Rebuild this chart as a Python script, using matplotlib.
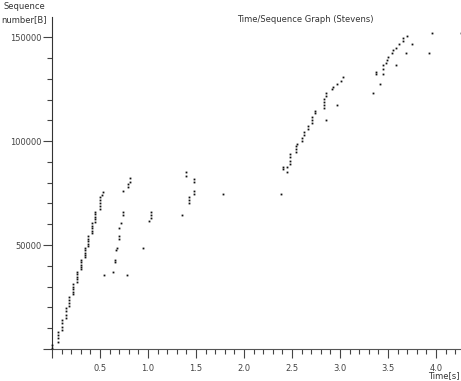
import matplotlib
matplotlib.use('Agg')
import matplotlib.pyplot as plt
from matplotlib.ticker import MultipleLocator

# time [s] and sequence number [B] of each segment
times = [
    0.003, 0.005,
    0.059, 0.059, 0.059, 0.059,
    0.101, 0.101, 0.101, 0.101,
    0.143, 0.143, 0.143, 0.143,
    0.182, 0.182, 0.182, 0.182,
    0.222, 0.222, 0.222, 0.222, 0.222,
    0.264, 0.264, 0.264, 0.264, 0.264,
    0.302, 0.302, 0.302, 0.302, 0.302,
    0.339, 0.339, 0.339, 0.339, 0.339,
    0.378, 0.378, 0.378, 0.378, 0.378,
    0.417, 0.417, 0.417, 0.417, 0.417,
    0.453, 0.453, 0.453, 0.453, 0.453,
    0.495, 0.495, 0.495, 0.495, 0.495,
    0.516, 0.531,
    0.545, 0.639, 0.661, 0.661, 0.667, 0.677, 0.698, 0.698, 0.698, 0.719,
    0.740, 0.740, 0.740, 0.789, 0.789, 0.8125, 0.8125, 0.781,
    0.948, 1.010, 1.028, 1.028, 1.028,
    1.357, 1.393, 1.393, 1.427, 1.427, 1.427, 1.482, 1.482, 1.482, 1.482,
    1.784, 2.380,
    2.409, 2.409, 2.445, 2.445, 2.479, 2.479, 2.479, 2.479,
    2.542, 2.542, 2.542, 2.555, 2.599, 2.599, 2.625, 2.625, 2.663, 2.663,
    2.705, 2.705, 2.705, 2.740, 2.740, 2.83, 2.83, 2.83, 2.83,
    2.854, 2.854, 2.914, 2.930, 2.966, 3.007, 3.028, 2.854, 2.966,
    3.341, 3.375, 3.375, 3.417, 3.451, 3.451, 3.451, 3.479, 3.486, 3.497,
    3.539, 3.555, 3.580, 3.618, 3.653, 3.653, 3.695,
    3.580, 3.6875, 3.75, 3.930, 3.961, 4.26,
]
seqs = [
    1900, 500,
    8300, 6700, 5100, 3500,
    13900, 12400, 10700, 9100,
    19700, 18100, 16500, 14900,
    25100, 23700, 22300, 20800,
    31200, 30000, 28800, 27600, 26400,
    37200, 36000, 34800, 33600, 32400,
    42800, 41700, 40600, 39600, 38500,
    48600, 47500, 46400, 45300, 44200,
    54300, 53100, 51900, 50700, 49500,
    60600, 59400, 58200, 57000, 55800,
    65900, 64700, 63500, 62300, 61100,
    73100, 71600, 70200, 68800, 67300,
    74000, 75500,
    35600, 37000, 43000, 41800, 47400, 48800, 54300, 52900, 58200, 60600,
    65900, 64400, 76100, 79300, 77900, 82200, 80500, 35600,
    48700, 61700, 66000, 64400, 62800,
    64400, 85100, 83300, 73200, 71600, 70000, 81700, 80400, 76100, 74500,
    74500, 74500,
    87600, 86400, 87600, 85000, 93700, 92300, 90600, 89200,
    94900, 96300, 97700, 98600, 100000, 101500, 102900, 104300, 105800, 107200,
    108700, 110100, 111700, 113400, 114700, 116000, 117500, 118900, 120200,
    121700, 123200, 124900, 126100, 127600, 128900, 130600, 110100, 117600,
    123100, 133300, 132200, 127400, 132200, 134600, 136400, 137600, 138900, 140500,
    142200, 143800, 144900, 146500, 148200, 149500, 150800,
    136400, 142200, 146500, 142200, 152100, 152100,
]

fig = plt.figure(figsize=(4.61, 3.81), dpi=100)
ax = fig.add_axes([52 / 461, 32 / 381, 1 - 52 / 461, 332 / 381])

ax.plot(times, seqs, linestyle='none', marker='s', markersize=1.3,
        markeredgewidth=0, color='#111111', clip_on=False, zorder=3)

ax.set_xlim(0, 4.26)
ax.set_ylim(0, 159700)

ax.spines['top'].set_visible(False)
ax.spines['right'].set_visible(False)
ax.spines['left'].set_color('#333333')
ax.spines['bottom'].set_color('#555555')

ax.xaxis.set_major_locator(MultipleLocator(0.5))
ax.xaxis.set_minor_locator(MultipleLocator(0.1))
ax.yaxis.set_major_locator(MultipleLocator(50000))
ax.yaxis.set_minor_locator(MultipleLocator(10000))
ax.xaxis.set_major_formatter(plt.FuncFormatter(lambda v, p: '' if v == 0 else '%.1f' % v))
ax.yaxis.set_major_formatter(plt.FuncFormatter(lambda v, p: '' if v == 0 else '%d' % v))

ax.tick_params(axis='both', which='major', length=6.5, width=0.8,
               labelsize=6, colors='#444444', pad=1)
ax.tick_params(axis='both', which='minor', length=3.5, width=0.8, colors='#444444')
ax.tick_params(axis='x', which='major', pad=4)

fig.text(305 / 461, 1 - 19 / 381, 'Time/Sequence Graph (Stevens)',
         ha='center', va='center', fontsize=6, color='#333333')
fig.text(24 / 461, 1 - 13 / 381, 'Sequence\nnumber[B]',
         ha='center', va='center', fontsize=6, color='#333333', linespacing=1.6)
fig.text(460 / 461, 0.5 / 381, 'Time[s]',
         ha='right', va='bottom', fontsize=6, color='#333333')

fig.savefig('out.png', dpi=100)
